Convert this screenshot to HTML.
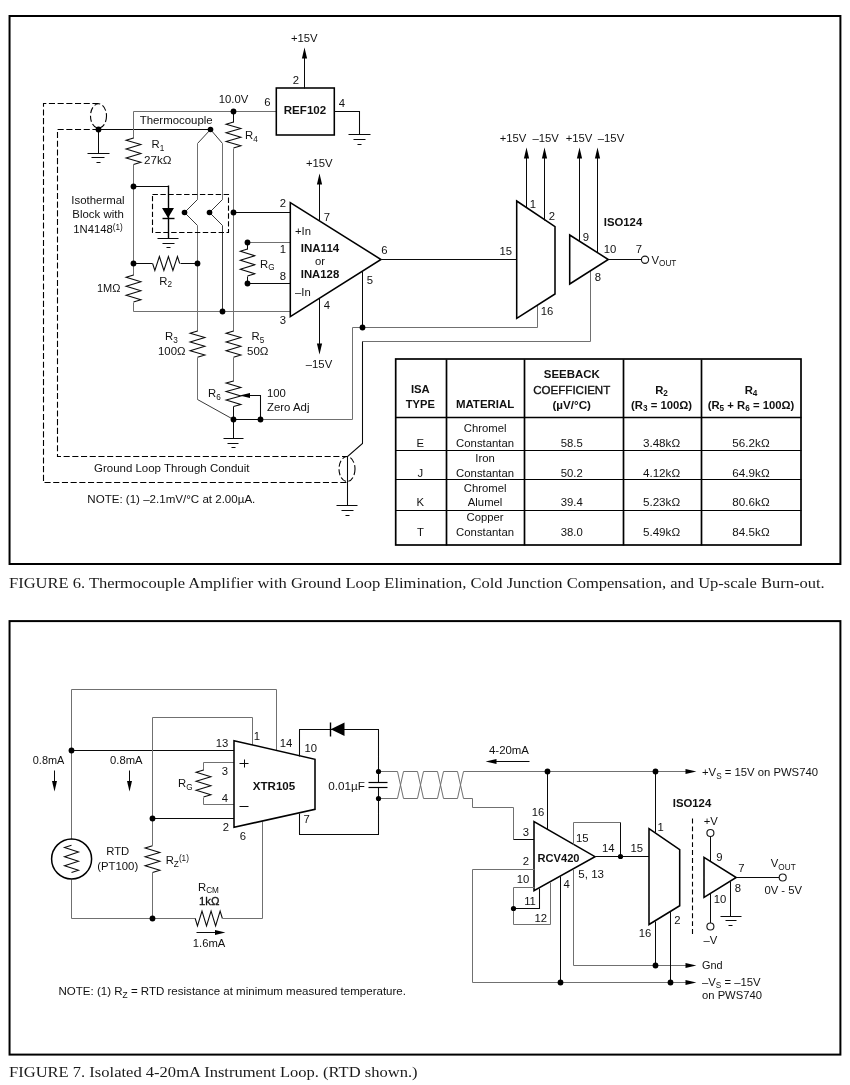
<!DOCTYPE html>
<html><head><meta charset="utf-8"><title>Figures 6 and 7</title>
<style>
html,body{margin:0;padding:0;background:#fff;}
svg{display:block;will-change:transform;}
text{font-family:"Liberation Sans",sans-serif;font-size:11.3px;fill:#111;}
text.cap{font-family:"Liberation Serif",serif;font-size:15.5px;fill:#1a1a1a;}
.f{fill:none;stroke:#000;stroke-width:2;}
.b{fill:#fff;stroke:#000;stroke-width:1.55;stroke-linejoin:miter;}
.t{fill:none;stroke:#000;stroke-width:1.7;}
.t1{fill:none;stroke:#000;stroke-width:1.1;}
.c{fill:none;stroke:#000;stroke-width:1.5;}
.k{fill:none;stroke:#0a0a0a;stroke-width:1.05;}
.k2{fill:none;stroke:#000;stroke-width:1.4;}
.k3{fill:none;stroke:#000;stroke-width:1.2;}
.g{fill:none;stroke:#707070;stroke-width:1;}
.g2{fill:none;stroke:#3a3a3a;stroke-width:1;}
.d{fill:none;stroke:#000;stroke-width:1.1;stroke-dasharray:6.1 2.6;}
.d3{fill:none;stroke:#000;stroke-width:1.1;stroke-dasharray:5.4 2.5;}
.d2{fill:none;stroke:#000;stroke-width:1.1;stroke-dasharray:4.9 3;}
.n{fill:#000;stroke:none;}
.a{fill:#000;stroke:none;}
.o{fill:#fff;stroke:#1a1a1a;stroke-width:1.15;}
</style></head><body>
<svg width="850" height="1085" viewBox="0 0 850 1085">
<rect x="0" y="0" width="850" height="1085" fill="#fff"/>
<rect class="f" x="9.55" y="16" width="830.85" height="548"/>
<polyline class="d" points="98.5,103.5 43.5,103.5 43.5,482.5 347.5,482.5"/>
<polyline class="d" points="98.5,129.5 57.5,129.5 57.5,456.5 347.5,456.5"/>
<ellipse class="d" cx="98.5" cy="116" rx="8" ry="12.2"/>
<ellipse class="d" cx="347" cy="469" rx="8" ry="12.5"/>
<polyline class="k" points="98.5,129.5 210.5,129.5"/>
<polyline class="k" points="98.5,129.5 98.5,153.5"/>
<polyline class="k" points="87.5,153.5 109.5,153.5"/>
<polyline class="k" points="91.5,157.5 104.5,157.5"/>
<polyline class="k" points="96.5,162.5 100.5,162.5"/>
<polyline class="g" points="133.5,138.5 133.5,111.5 276.5,111.5"/>
<polyline class="k" points="133.5,138 126.1,140.21 140.9,144.62 126.1,149.04 140.9,153.46 126.1,157.88 140.9,162.29 133.5,164.5"/>
<polyline class="g" points="133.5,164.5 133.5,275.5"/>
<polyline class="k" points="133.5,275 126.1,277.25 140.9,281.75 126.1,286.25 140.9,290.75 126.1,295.25 140.9,299.75 133.5,302"/>
<polyline class="g" points="133.5,302.5 133.5,311.5 290.5,311.5"/>
<polyline class="k" points="233.5,111.5 233.5,122.5"/>
<polyline class="k" points="233.5,122 226.1,124.17 240.9,128.5 226.1,132.83 240.9,137.17 226.1,141.5 240.9,145.83 233.5,148"/>
<polyline class="g" points="233.5,148.5 233.5,331.5"/>
<polyline class="k" points="233.5,212.5 290.5,212.5"/>
<polyline class="g2" points="197.5,143.5 210.5,129.5 222.5,143.5"/>
<polyline class="g" points="197.5,143.5 197.5,199.5"/>
<polyline class="g" points="222.5,143.5 222.5,199.5"/>
<polyline class="g2" points="197.5,199.5 184.5,212.5 197.5,225.5"/>
<polyline class="g2" points="222.5,199.5 209.5,212.5 222.5,225.5"/>
<polyline class="g" points="197.5,225.5 197.5,331.5"/>
<polyline class="g2" points="222.5,225.5 222.5,311.5"/>
<polyline class="k" points="133.5,186.5 168.5,186.5"/>
<polyline class="k2" points="168.5,185.5 168.5,238.5"/>
<polygon class="a" points="162,208 174,208 168,218"/>
<polyline class="k2" points="162.5,218.5 174.5,218.5"/>
<polyline class="k" points="157.5,238.5 178.5,238.5"/>
<polyline class="k" points="162.5,243.5 174.5,243.5"/>
<polyline class="k" points="166.5,247.5 170.5,247.5"/>
<rect class="d3" x="152.5" y="194.5" width="76" height="38"/>
<polyline class="k" points="133.5,263.5 152.5,263.5"/>
<polyline class="k" points="152.6,263.5 154.86,270.5 159.38,256.5 163.89,270.5 168.41,256.5 172.92,270.5 177.44,256.5 179.7,263.5"/>
<polyline class="k" points="180.5,263.5 197.5,263.5"/>
<polyline class="k" points="197.5,331 190.1,333.19 204.9,337.57 190.1,341.96 204.9,346.34 190.1,350.73 204.9,355.11 197.5,357.3"/>
<polyline class="k" points="233.5,331 226.1,333.19 240.9,337.57 226.1,341.96 240.9,346.34 226.1,350.73 240.9,355.11 233.5,357.3"/>
<polyline class="g" points="197.5,357.5 197.5,399.5"/>
<polyline class="g2" points="197.5,399.5 233.5,419.5"/>
<polyline class="g" points="233.5,357.5 233.5,381.5"/>
<polyline class="k" points="233.5,381 226.1,383.12 240.9,387.38 226.1,391.62 240.9,395.88 226.1,400.12 240.9,404.38 233.5,406.5"/>
<polyline class="k" points="233.5,406.5 233.5,438.5"/>
<polyline class="k" points="233.5,419.5 260.5,419.5"/>
<polyline class="k" points="260.5,419.5 260.5,395.5 249.5,395.5"/>
<polygon class="a" points="239.6,395.5 250,393 250,398"/>
<polyline class="k" points="223.5,438.5 243.5,438.5"/>
<polyline class="k" points="227.5,443.5 238.5,443.5"/>
<polyline class="k" points="231.5,447.5 235.5,447.5"/>
<polyline class="g" points="260.5,419.5 352.5,419.5 352.5,327.5 537.5,327.5 537.5,305.5"/>
<polyline class="g" points="247.5,242.5 290.5,242.5"/>
<polyline class="k" points="247.5,283.5 290.5,283.5"/>
<polyline class="k" points="247.5,242.5 247.5,249.5"/>
<polyline class="k" points="247.5,249 240.3,251.25 254.7,255.75 240.3,260.25 254.7,264.75 240.3,269.25 254.7,273.75 247.5,276"/>
<polyline class="k" points="247.5,276.5 247.5,283.5"/>
<polygon class="b" points="290.3,202.7 290.3,316.7 381,259.5"/>
<polyline class="k" points="319.5,220.5 319.5,183.5"/>
<polygon class="a" points="319.5,173.6 316.9,184.5 322.1,184.5"/>
<polyline class="k" points="319.5,298.5 319.5,344.5"/>
<polygon class="a" points="319.5,354.4 316.9,343.5 322.1,343.5"/>
<polyline class="k" points="381.5,259.5 516.5,259.5"/>
<polyline class="k" points="362.5,271.5 362.5,327.5"/>
<polyline class="g" points="590.5,270.5 590.5,341.5 362.5,341.5"/>
<polyline class="k" points="362.5,341.5 362.5,443.5 347.5,456.5 347.5,505.5"/>
<polyline class="k" points="336.5,505.5 357.5,505.5"/>
<polyline class="k" points="341.5,510.5 353.5,510.5"/>
<polyline class="k" points="345.5,515.5 349.5,515.5"/>
<rect class="b" x="276.3" y="88" width="58" height="47"/>
<polyline class="k" points="304.5,88.5 304.5,57.5"/>
<polygon class="a" points="304.5,47.6 301.9,58.5 307.1,58.5"/>
<polyline class="k" points="334.5,111.5 359.5,111.5 359.5,134.5"/>
<polyline class="k" points="348.5,134.5 370.5,134.5"/>
<polyline class="k" points="353.5,139.5 365.5,139.5"/>
<polyline class="k" points="357.5,144.5 361.5,144.5"/>
<polygon class="b" points="516.7,201 555,226.7 555,294 516.7,318.3"/>
<polygon class="b" points="569.7,235 569.7,284 608.3,259.5"/>
<polyline class="k" points="526.5,207.5 526.5,157.5"/>
<polygon class="a" points="526.5,147.6 523.9,158.5 529.1,158.5"/>
<polyline class="k" points="544.5,220.5 544.5,157.5"/>
<polygon class="a" points="544.5,147.6 541.9,158.5 547.1,158.5"/>
<polyline class="k" points="579.5,241.5 579.5,157.5"/>
<polygon class="a" points="579.5,147.6 576.9,158.5 582.1,158.5"/>
<polyline class="k" points="597.5,252.5 597.5,157.5"/>
<polygon class="a" points="597.5,147.6 594.9,158.5 600.1,158.5"/>
<polyline class="k" points="608.5,259.5 641.5,259.5"/>
<circle class="o" cx="645" cy="259.7" r="3.6"/>
<text x="304.3" y="42.05" text-anchor="middle">+15V</text>
<text x="296" y="84.05" text-anchor="middle">2</text>
<text x="305" y="114.05" text-anchor="middle" font-weight="bold" textLength="42.5" lengthAdjust="spacingAndGlyphs">REF102</text>
<text x="342" y="107.05" text-anchor="middle">4</text>
<text x="267.5" y="106.05" text-anchor="middle">6</text>
<text x="233.5" y="103.05" text-anchor="middle">10.0V</text>
<text x="176.2" y="123.55" text-anchor="middle" textLength="73" lengthAdjust="spacingAndGlyphs">Thermocouple</text>
<text x="151.5" y="148.05" text-anchor="start">R<tspan font-size="8.2" dy="2.6">1</tspan></text>
<text x="144" y="163.55" text-anchor="start" textLength="27.5" lengthAdjust="spacingAndGlyphs">27kΩ</text>
<text x="245" y="139.05" text-anchor="start">R<tspan font-size="8.2" dy="2.6">4</tspan></text>
<text x="98" y="204.05" text-anchor="middle" textLength="53.3" lengthAdjust="spacingAndGlyphs">Isothermal</text>
<text x="98" y="218.05" text-anchor="middle" textLength="51.5" lengthAdjust="spacingAndGlyphs">Block with</text>
<text x="98" y="233.05" text-anchor="middle">1N4148<tspan font-size="8.2" dy="-3">(1)</tspan></text>
<text x="319.3" y="167.05" text-anchor="middle">+15V</text>
<text x="283" y="207.05" text-anchor="middle">2</text>
<text x="327" y="221.05" text-anchor="middle">7</text>
<text x="295" y="235.05" text-anchor="start">+In</text>
<text x="320" y="252.05" text-anchor="middle" font-weight="bold" textLength="38.5" lengthAdjust="spacingAndGlyphs">INA114</text>
<text x="320" y="264.55" text-anchor="middle">or</text>
<text x="320" y="278.05" text-anchor="middle" font-weight="bold" textLength="38.5" lengthAdjust="spacingAndGlyphs">INA128</text>
<text x="295" y="296.05" text-anchor="start">–In</text>
<text x="283" y="253.05" text-anchor="middle">1</text>
<text x="283" y="280.05" text-anchor="middle">8</text>
<text x="283" y="324.05" text-anchor="middle">3</text>
<text x="384.5" y="254.05" text-anchor="middle">6</text>
<text x="370" y="283.75" text-anchor="middle">5</text>
<text x="327" y="308.75" text-anchor="middle">4</text>
<text x="319" y="368.05" text-anchor="middle">–15V</text>
<text x="260" y="267.55" text-anchor="start">R<tspan font-size="8.2" dy="2.6">G</tspan></text>
<text x="159.3" y="284.55" text-anchor="start">R<tspan font-size="8.2" dy="2.6">2</tspan></text>
<text x="97" y="292.05" text-anchor="start" textLength="23.5" lengthAdjust="spacingAndGlyphs">1MΩ</text>
<text x="165" y="340.05" text-anchor="start">R<tspan font-size="8.2" dy="2.6">3</tspan></text>
<text x="158" y="355.05" text-anchor="start" textLength="27.5" lengthAdjust="spacingAndGlyphs">100Ω</text>
<text x="251.5" y="340.05" text-anchor="start">R<tspan font-size="8.2" dy="2.6">5</tspan></text>
<text x="247" y="355.05" text-anchor="start" textLength="21.5" lengthAdjust="spacingAndGlyphs">50Ω</text>
<text x="208" y="397.05" text-anchor="start">R<tspan font-size="8.2" dy="2.6">6</tspan></text>
<text x="267" y="396.75" text-anchor="start">100</text>
<text x="267" y="411.05" text-anchor="start" textLength="42.5" lengthAdjust="spacingAndGlyphs">Zero Adj</text>
<text x="94" y="471.75" text-anchor="start" textLength="155.5" lengthAdjust="spacingAndGlyphs">Ground Loop Through Conduit</text>
<text x="87.3" y="502.65" text-anchor="start" textLength="168" lengthAdjust="spacingAndGlyphs">NOTE: (1) –2.1mV/°C at 2.00µA.</text>
<text x="505.7" y="255.05" text-anchor="middle">15</text>
<text x="547" y="315.05" text-anchor="middle">16</text>
<text x="533" y="208.05" text-anchor="middle">1</text>
<text x="552" y="220.05" text-anchor="middle">2</text>
<text x="586" y="241.05" text-anchor="middle">9</text>
<text x="610" y="253.05" text-anchor="middle">10</text>
<text x="639" y="253.05" text-anchor="middle">7</text>
<text x="598" y="281.05" text-anchor="middle">8</text>
<text x="623" y="226.15" text-anchor="middle" font-weight="bold" textLength="38.5" lengthAdjust="spacingAndGlyphs">ISO124</text>
<text x="513" y="142.05" text-anchor="middle">+15V</text>
<text x="545.7" y="142.05" text-anchor="middle">–15V</text>
<text x="579" y="142.05" text-anchor="middle">+15V</text>
<text x="611" y="142.05" text-anchor="middle">–15V</text>
<text x="651.5" y="263.55" text-anchor="start">V<tspan font-size="8.2" dy="2.6">OUT</tspan></text>
<rect class="t" x="395.7" y="359" width="405.3" height="186"/>
<polyline class="t" points="446.5,359.5 446.5,545.5"/>
<polyline class="t" points="524.5,359.5 524.5,545.5"/>
<polyline class="t" points="623.5,359.5 623.5,545.5"/>
<polyline class="t" points="701.5,359.5 701.5,545.5"/>
<polyline class="t" points="395.5,417.5 801.5,417.5"/>
<polyline class="t1" points="395.5,450.5 801.5,450.5"/>
<polyline class="t1" points="395.5,479.5 801.5,479.5"/>
<polyline class="t1" points="395.5,510.5 801.5,510.5"/>
<text x="420.35" y="393.35" text-anchor="middle" font-weight="bold">ISA</text>
<text x="420.35" y="407.85" text-anchor="middle" font-weight="bold" textLength="29" lengthAdjust="spacingAndGlyphs">TYPE</text>
<text x="485.1" y="407.55" text-anchor="middle" font-weight="bold" textLength="58.4" lengthAdjust="spacingAndGlyphs">MATERIAL</text>
<text x="571.75" y="378.25" text-anchor="middle" font-weight="bold" textLength="56" lengthAdjust="spacingAndGlyphs">SEEBACK</text>
<text x="571.75" y="393.55" text-anchor="middle" stroke="#111" stroke-width="0.35" textLength="77" lengthAdjust="spacingAndGlyphs">COEFFICIENT</text>
<text x="571.75" y="408.75" text-anchor="middle" font-weight="bold" textLength="38.5" lengthAdjust="spacingAndGlyphs">(µV/°C)</text>
<text x="661.55" y="393.75" text-anchor="middle" font-weight="bold">R<tspan font-size="8.2" dy="2.6">2</tspan></text>
<text x="661.55" y="408.75" text-anchor="middle" font-weight="bold">(R<tspan font-size="8.2" dy="2.6">3</tspan><tspan dy="-2.6"> = 100Ω)</tspan></text>
<text x="751" y="393.75" text-anchor="middle" font-weight="bold">R<tspan font-size="8.2" dy="2.6">4</tspan></text>
<text x="751" y="408.75" text-anchor="middle" font-weight="bold">(R<tspan font-size="8.2" dy="2.6">5</tspan><tspan dy="-2.6"> + R</tspan><tspan font-size="8.2" dy="2.6">6</tspan><tspan dy="-2.6"> = 100Ω)</tspan></text>
<text x="420.35" y="447.25" text-anchor="middle">E</text>
<text x="485.1" y="432.25" text-anchor="middle">Chromel</text>
<text x="485.1" y="447.25" text-anchor="middle" textLength="58" lengthAdjust="spacingAndGlyphs">Constantan</text>
<text x="571.75" y="447.25" text-anchor="middle">58.5</text>
<text x="661.55" y="447.25" text-anchor="middle" textLength="37.3" lengthAdjust="spacingAndGlyphs">3.48kΩ</text>
<text x="751" y="447.25" text-anchor="middle" textLength="37.3" lengthAdjust="spacingAndGlyphs">56.2kΩ</text>
<text x="420.35" y="476.95" text-anchor="middle">J</text>
<text x="485.1" y="461.95" text-anchor="middle">Iron</text>
<text x="485.1" y="476.95" text-anchor="middle" textLength="58" lengthAdjust="spacingAndGlyphs">Constantan</text>
<text x="571.75" y="476.95" text-anchor="middle">50.2</text>
<text x="661.55" y="476.95" text-anchor="middle" textLength="37.3" lengthAdjust="spacingAndGlyphs">4.12kΩ</text>
<text x="751" y="476.95" text-anchor="middle" textLength="37.3" lengthAdjust="spacingAndGlyphs">64.9kΩ</text>
<text x="420.35" y="506.25" text-anchor="middle">K</text>
<text x="485.1" y="491.95" text-anchor="middle">Chromel</text>
<text x="485.1" y="506.25" text-anchor="middle">Alumel</text>
<text x="571.75" y="506.25" text-anchor="middle">39.4</text>
<text x="661.55" y="506.25" text-anchor="middle" textLength="37.3" lengthAdjust="spacingAndGlyphs">5.23kΩ</text>
<text x="751" y="506.25" text-anchor="middle" textLength="37.3" lengthAdjust="spacingAndGlyphs">80.6kΩ</text>
<text x="420.35" y="536.25" text-anchor="middle">T</text>
<text x="485.1" y="521.25" text-anchor="middle">Copper</text>
<text x="485.1" y="536.25" text-anchor="middle" textLength="58" lengthAdjust="spacingAndGlyphs">Constantan</text>
<text x="571.75" y="536.25" text-anchor="middle">38.0</text>
<text x="661.55" y="536.25" text-anchor="middle" textLength="37.3" lengthAdjust="spacingAndGlyphs">5.49kΩ</text>
<text x="751" y="536.25" text-anchor="middle" textLength="37.3" lengthAdjust="spacingAndGlyphs">84.5kΩ</text>
<text class="cap" x="9" y="587.9" textLength="815.6" lengthAdjust="spacingAndGlyphs">FIGURE 6. Thermocouple Amplifier with Ground Loop Elimination, Cold Junction Compensation, and Up-scale Burn-out.</text>
<text class="cap" x="9" y="1077.3" textLength="408.6" lengthAdjust="spacingAndGlyphs">FIGURE 7. Isolated 4-20mA Instrument Loop. (RTD shown.)</text>
<rect class="f" x="9.55" y="621.1" width="830.85" height="433.5"/>
<polyline class="g" points="71.5,839.5 71.5,689.5 276.5,689.5 276.5,750.5"/>
<polyline class="g" points="71.5,879.5 71.5,918.5 195.5,918.5"/>
<polyline class="k" points="71.5,750.5 234.5,750.5"/>
<polyline class="g" points="152.5,845.5 152.5,717.5 252.5,717.5 252.5,745.5"/>
<polyline class="k" points="152.5,818.5 234.5,818.5"/>
<polyline class="k" points="152.5,845.7 145.1,847.93 159.9,852.4 145.1,856.87 159.9,861.33 145.1,865.8 159.9,870.27 152.5,872.5"/>
<polyline class="g" points="152.5,872.5 152.5,918.5"/>
<polyline class="k" points="195.2,918.5 197.47,925.9 202,911.1 206.53,925.9 211.07,911.1 215.6,925.9 220.13,911.1 222.4,918.5"/>
<polyline class="g" points="222.5,918.5 262.5,918.5 262.5,821.5"/>
<circle class="c" cx="71.6" cy="859" r="20"/>
<polyline class="k" points="71.5,845.3 64.5,847.57 78.5,852.1 64.5,856.63 78.5,861.17 64.5,865.7 78.5,870.23 71.5,872.5"/>
<polyline class="g" points="234.5,762.5 203.5,762.5 203.5,770.5"/>
<polyline class="k" points="203.5,770 196.1,772.25 210.9,776.75 196.1,781.25 210.9,785.75 196.1,790.25 210.9,794.75 203.5,797"/>
<polyline class="g" points="203.5,797.5 203.5,804.5 234.5,804.5"/>
<polyline class="k" points="54.5,770.5 54.5,782.5"/>
<polygon class="a" points="54.5,791.4 52,781 57,781"/>
<polyline class="k" points="129.5,770.5 129.5,782.5"/>
<polygon class="a" points="129.5,791.4 127,781 132,781"/>
<polyline class="k" points="196.5,932.5 215.5,932.5"/>
<polygon class="a" points="225.4,932.5 215,930.1 215,934.9"/>
<polygon class="b" points="234,740.7 315,759.3 315,809.3 234,827.3"/>
<polyline class="k" points="299.5,756.5 299.5,729.5 378.5,729.5 378.5,782.5"/>
<polyline class="k" points="299.5,813.5 299.5,834.5 378.5,834.5 378.5,787.5"/>
<polygon class="a" points="330.7,729.3 344.5,722.5 344.5,736.1"/>
<polyline class="k2" points="330.5,722.5 330.5,736.5"/>
<polyline class="k3" points="368.5,782.5 387.5,782.5"/>
<polyline class="k3" points="368.5,787.5 387.5,787.5"/>
<polyline class="g" points="378.5,771.5 397.5,771.5 403.5,798.5 417.5,798.5 423.5,771.5 437.5,771.5 443.5,798.5 457.5,798.5 463.5,771.5 686.5,771.5"/>
<polyline class="g" points="378.5,798.5 397.5,798.5 403.5,771.5 417.5,771.5 423.5,798.5 437.5,798.5 443.5,771.5 457.5,771.5 463.5,798.5 472.5,798.5 472.5,807.5 513.5,807.5 513.5,839.5"/>
<polyline class="k" points="513.5,839.5 534.5,839.5"/>
<polygon class="a" points="696.4,771.5 685.5,768.9 685.5,774.1"/>
<polyline class="k" points="495.5,761.5 529.5,761.5"/>
<polygon class="a" points="485.6,761.5 496.5,759.1 496.5,763.9"/>
<polygon class="b" points="534,821.7 534,890.7 595,856.7"/>
<polyline class="k" points="547.5,771.5 547.5,829.5"/>
<polyline class="g" points="534.5,869.5 472.5,869.5 472.5,982.5 686.5,982.5"/>
<polygon class="a" points="696.4,982.5 685.5,979.9 685.5,985.1"/>
<polyline class="g" points="534.5,887.5 513.5,887.5 513.5,924.5 550.5,924.5 550.5,882.5"/>
<polyline class="k" points="513.5,908.5 539.5,908.5 539.5,888.5"/>
<polyline class="k" points="560.5,876.5 560.5,982.5"/>
<polyline class="g" points="573.5,869.5 573.5,965.5 686.5,965.5"/>
<polygon class="a" points="696.4,965.5 685.5,962.9 685.5,968.1"/>
<polyline class="g" points="573.5,844.5 573.5,822.5 620.5,822.5"/>
<polyline class="k" points="620.5,822.5 620.5,856.5"/>
<polyline class="k" points="595.5,856.5 649.5,856.5"/>
<polygon class="b" points="649,828.7 679.7,849.7 679.7,905.7 649,924.5"/>
<polyline class="k" points="655.5,771.5 655.5,832.5"/>
<polyline class="k" points="655.5,921.5 655.5,965.5"/>
<polyline class="k" points="670.5,911.5 670.5,982.5"/>
<polyline class="d2" points="692.5,818.5 692.5,936.5"/>
<circle class="o" cx="710.4" cy="833" r="3.5"/>
<polyline class="k" points="710.5,836.5 710.5,861.5"/>
<polygon class="b" points="704,857.4 704,897.4 736.2,877.5"/>
<polyline class="k" points="710.5,893.5 710.5,923.5"/>
<circle class="o" cx="710.4" cy="926.5" r="3.5"/>
<polyline class="k" points="736.5,877.5 779.5,877.5"/>
<circle class="o" cx="782.7" cy="877.5" r="3.5"/>
<polyline class="k" points="730.5,881.5 730.5,916.5"/>
<polyline class="k" points="720.5,916.5 741.5,916.5"/>
<polyline class="k" points="725.5,920.5 736.5,920.5"/>
<polyline class="k" points="728.5,925.5 732.5,925.5"/>
<text x="222" y="747.05" text-anchor="middle">13</text>
<text x="257" y="740.05" text-anchor="middle">1</text>
<text x="286" y="746.75" text-anchor="middle">14</text>
<text x="310.7" y="751.75" text-anchor="middle">10</text>
<text x="306.7" y="823.35" text-anchor="middle">7</text>
<text x="226" y="830.75" text-anchor="middle">2</text>
<text x="243" y="840.05" text-anchor="middle">6</text>
<text x="225" y="774.75" text-anchor="middle">3</text>
<text x="225" y="802.05" text-anchor="middle">4</text>
<polyline class="k" points="239.5,763.5 248.5,763.5"/>
<polyline class="k" points="244.5,759.5 244.5,767.5"/>
<polyline class="k" points="239.5,806.5 248.5,806.5"/>
<text x="274" y="790.05" text-anchor="middle" font-weight="bold" textLength="42.5" lengthAdjust="spacingAndGlyphs">XTR105</text>
<text x="32.8" y="764.05" text-anchor="start" textLength="31.5" lengthAdjust="spacingAndGlyphs">0.8mA</text>
<text x="110" y="764.05" text-anchor="start" textLength="32.5" lengthAdjust="spacingAndGlyphs">0.8mA</text>
<text x="178" y="787.05" text-anchor="start">R<tspan font-size="8.2" dy="2.6">G</tspan></text>
<text x="117.7" y="855.05" text-anchor="middle">RTD</text>
<text x="117.7" y="870.05" text-anchor="middle" textLength="41" lengthAdjust="spacingAndGlyphs">(PT100)</text>
<text x="165.7" y="864.05" text-anchor="start">R<tspan font-size="8.2" dy="2.6">Z</tspan><tspan font-size="8.2" dy="-6">(1)</tspan></text>
<text x="198" y="890.55" text-anchor="start">R<tspan font-size="8.2" dy="2.6">CM</tspan></text>
<text x="209.3" y="905.05" text-anchor="middle" stroke="#111" stroke-width="0.3" textLength="20.5" lengthAdjust="spacingAndGlyphs">1kΩ</text>
<text x="209" y="946.75" text-anchor="middle" textLength="32.5" lengthAdjust="spacingAndGlyphs">1.6mA</text>
<text x="328.3" y="790.05" text-anchor="start" textLength="36.7" lengthAdjust="spacingAndGlyphs">0.01µF</text>
<text x="509" y="754.05" text-anchor="middle" textLength="40" lengthAdjust="spacingAndGlyphs">4-20mA</text>
<text x="538" y="815.75" text-anchor="middle">16</text>
<text x="526" y="835.75" text-anchor="middle">3</text>
<text x="526" y="864.75" text-anchor="middle">2</text>
<text x="523" y="883.05" text-anchor="middle">10</text>
<text x="530" y="905.05" text-anchor="middle">11</text>
<text x="540.7" y="922.35" text-anchor="middle">12</text>
<text x="566.7" y="888.35" text-anchor="middle">4</text>
<text x="578.3" y="878.35" text-anchor="start" textLength="25.7" lengthAdjust="spacingAndGlyphs">5, 13</text>
<text x="582.3" y="841.75" text-anchor="middle">15</text>
<text x="608.3" y="852.35" text-anchor="middle">14</text>
<text x="636.7" y="852.35" text-anchor="middle">15</text>
<text x="558.5" y="861.55" text-anchor="middle" font-weight="bold" textLength="42" lengthAdjust="spacingAndGlyphs">RCV420</text>
<text x="660.7" y="831.35" text-anchor="middle">1</text>
<text x="645" y="937.35" text-anchor="middle">16</text>
<text x="677.3" y="924.05" text-anchor="middle">2</text>
<text x="692" y="807.05" text-anchor="middle" font-weight="bold" textLength="38.5" lengthAdjust="spacingAndGlyphs">ISO124</text>
<text x="710.7" y="824.55" text-anchor="middle">+V</text>
<text x="710.3" y="944.05" text-anchor="middle">–V</text>
<text x="719.5" y="860.65" text-anchor="middle">9</text>
<text x="741.4" y="872.05" text-anchor="middle">7</text>
<text x="738" y="891.65" text-anchor="middle">8</text>
<text x="720" y="903.05" text-anchor="middle">10</text>
<text x="770.8" y="867.35" text-anchor="start">V<tspan font-size="8.2" dy="2.6">OUT</tspan></text>
<text x="764.4" y="894.45" text-anchor="start" textLength="37.6" lengthAdjust="spacingAndGlyphs">0V - 5V</text>
<text x="702" y="776.05" text-anchor="start">+V<tspan font-size="8.2" dy="2.6">S</tspan><tspan dy="-2.6"> = 15V on PWS740</tspan></text>
<text x="702" y="968.55" text-anchor="start" textLength="20.6" lengthAdjust="spacingAndGlyphs">Gnd</text>
<text x="702" y="985.75" text-anchor="start">–V<tspan font-size="8.2" dy="2.6">S</tspan><tspan dy="-2.6"> = –15V</tspan></text>
<text x="702" y="999.45" text-anchor="start" textLength="60" lengthAdjust="spacingAndGlyphs">on PWS740</text>
<text x="58.5" y="995.05" text-anchor="start" textLength="347.5" lengthAdjust="spacingAndGlyphs">NOTE: (1) R<tspan font-size="8.2" dy="2.6">Z</tspan><tspan dy="-2.6"> = RTD resistance at minimum measured temperature.</tspan></text>
<circle class="n" cx="98.5" cy="129.5" r="2.9"/>
<circle class="n" cx="233.5" cy="111.5" r="2.9"/>
<circle class="n" cx="133.5" cy="186.5" r="2.9"/>
<circle class="n" cx="133.5" cy="263.5" r="2.9"/>
<circle class="n" cx="233.5" cy="212.5" r="2.9"/>
<circle class="n" cx="210.5" cy="129.5" r="2.8"/>
<circle class="n" cx="184.5" cy="212.5" r="2.8"/>
<circle class="n" cx="209.5" cy="212.5" r="2.8"/>
<circle class="n" cx="222.5" cy="311.5" r="2.9"/>
<circle class="n" cx="197.5" cy="263.5" r="2.9"/>
<circle class="n" cx="233.5" cy="419.5" r="2.9"/>
<circle class="n" cx="260.5" cy="419.5" r="2.9"/>
<circle class="n" cx="247.5" cy="242.5" r="2.9"/>
<circle class="n" cx="247.5" cy="283.5" r="2.9"/>
<circle class="n" cx="362.5" cy="327.5" r="2.9"/>
<circle class="n" cx="71.5" cy="750.5" r="2.9"/>
<circle class="n" cx="152.5" cy="818.5" r="2.9"/>
<circle class="n" cx="152.5" cy="918.5" r="2.9"/>
<circle class="n" cx="378.5" cy="771.5" r="2.6"/>
<circle class="n" cx="378.5" cy="798.5" r="2.6"/>
<circle class="n" cx="547.5" cy="771.5" r="2.9"/>
<circle class="n" cx="513.5" cy="908.5" r="2.6"/>
<circle class="n" cx="560.5" cy="982.5" r="2.9"/>
<circle class="n" cx="620.5" cy="856.5" r="2.6"/>
<circle class="n" cx="655.5" cy="771.5" r="2.9"/>
<circle class="n" cx="655.5" cy="965.5" r="2.9"/>
<circle class="n" cx="670.5" cy="982.5" r="2.9"/>
</svg>
</body></html>
